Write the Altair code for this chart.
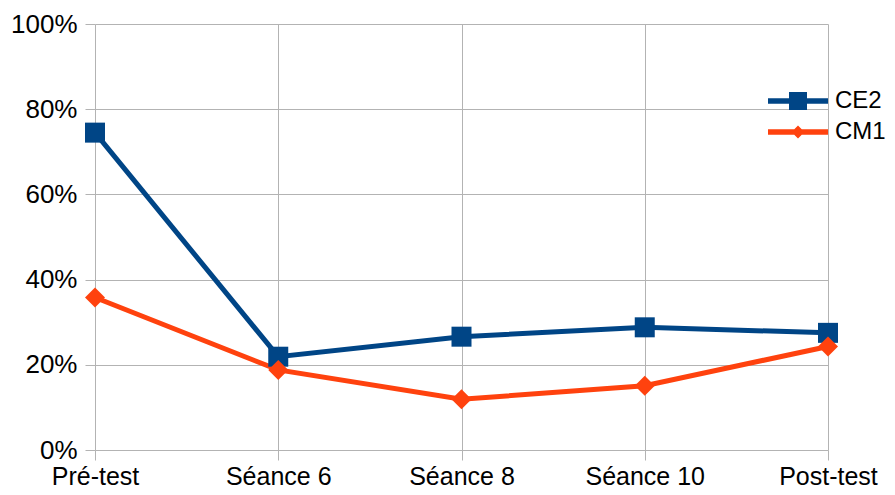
import altair as alt
import pandas as pd

categories = ["Pré-test", "Séance 6", "Séance 8", "Séance 10", "Post-test"]
series_names = ["CE2", "CM1"]
ce2_values = [0.745, 0.219, 0.266, 0.288, 0.275]
cm1_values = [0.358, 0.188, 0.119, 0.151, 0.243]
colors = ["#004586", "#ff420e"]
y_ticks = [0, 0.2, 0.4, 0.6, 0.8, 1.0]

rows = []
for name, vals in zip(series_names, [ce2_values, cm1_values]):
    for cat, v in zip(categories, vals):
        rows.append({"cat": cat, "series": name, "value": v})
df = pd.DataFrame(rows)

FONT = "Liberation Sans"
GRID = "#b3b3b3"
FS = 26

x = alt.X("cat:N", sort=categories, scale=alt.Scale(type="point", padding=0),
          axis=alt.Axis(title=None, labelAngle=0, grid=True, gridColor=GRID, gridWidth=1,
                        domain=False, tickColor=GRID, tickSize=10, labelPadding=4,
                        labelFontSize=25, labelFont=FONT, labelColor="black"))
y = alt.Y("value:Q", scale=alt.Scale(domain=[0, 1], nice=False, zero=True),
          axis=alt.Axis(title=None, values=y_ticks, format=".0%", grid=True, gridColor=GRID,
                        gridWidth=1, domain=False, tickColor=GRID, tickSize=10, labelPadding=8,
                        labelFontSize=FS, labelFont=FONT, labelColor="black"))
color_scale = alt.Scale(domain=series_names, range=colors)

path_ce2 = "M-3,-0.28H3V0.28H-3Z M-0.9,-0.9H0.9V0.9H-0.9Z"
path_cm1 = "M-3,-0.28H3V0.28H-3Z M0,-0.65L0.65,0L0,0.65L-0.65,0Z"

leg = dict(orient="none", legendX=691, legendY=65, title=None, labelFontSize=24,
           labelFont=FONT, labelColor="black", symbolSize=400, labelOffset=25,
           rowPadding=7, padding=0, symbolStrokeWidth=0)

legend_layer = alt.Chart(df).transform_filter("false").mark_point(
    filled=True, opacity=1, size=400).encode(
    x=x, y=y,
    color=alt.Color("series:N", scale=color_scale, legend=alt.Legend(**leg)),
    shape=alt.Shape("series:N", scale=alt.Scale(domain=series_names, range=[path_ce2, path_cm1]),
                    legend=alt.Legend(**leg)))

lines = alt.Chart(df).mark_line(strokeWidth=5).encode(
    x=x, y=y, color=alt.Color("series:N", scale=color_scale))

pts_ce2 = alt.Chart(df).transform_filter(alt.datum.series == "CE2").mark_point(
    shape="square", filled=True, size=400, opacity=1).encode(
    x=x, y=y, color=alt.Color("series:N", scale=color_scale))

pts_cm1 = alt.Chart(df).transform_filter(alt.datum.series == "CM1").mark_point(
    shape="diamond", filled=True, size=400, opacity=1).encode(
    x=x, y=y, color=alt.Color("series:N", scale=color_scale))

chart = alt.layer(legend_layer, lines, pts_ce2, pts_cm1).properties(
    width=733, height=426,
    autosize=alt.AutoSizeParams(type="none"),
    padding={"left": 87, "top": 16, "right": 59, "bottom": 42},
    background="white",
).configure_view(stroke=None)

chart.save("out.html", embed_options={"renderer": "svg", "actions": False})
